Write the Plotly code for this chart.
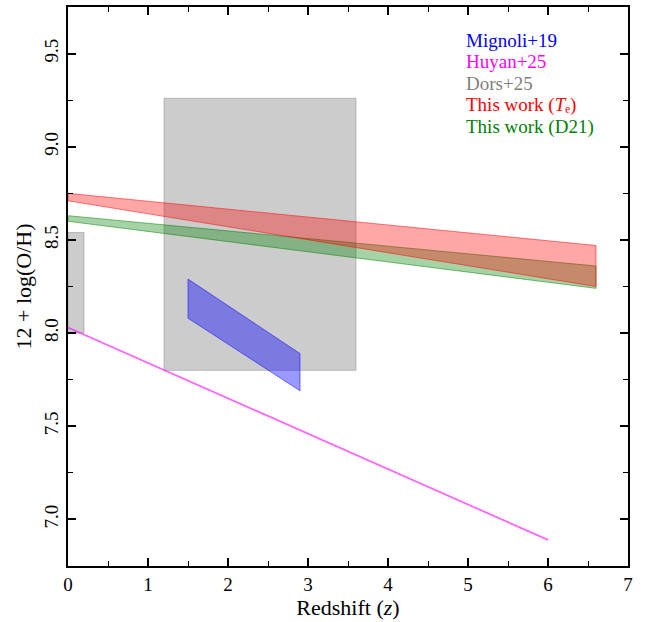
import plotly.graph_objects as go

# ---- data ----
dors_boxes = [  # (z_min, z_max, oh_min, oh_max)
    (0.0, 0.2, 8.00, 8.54),
    (1.2, 3.6, 7.80, 9.26),
]
mignoli_z = [1.5, 2.9]
mignoli_upper = [8.29, 7.89]
mignoli_lower = [8.08, 7.69]

huyan_z = [0.0, 6.0]
huyan_oh = [8.03, 6.89]

te_z = [0.0, 6.6]
te_upper = [8.75, 8.47]
te_lower = [8.71, 8.25]

d21_z = [0.0, 6.6]
d21_upper = [8.63, 8.36]
d21_lower = [8.60, 8.24]

y_ticks = [7.0, 7.5, 8.0, 8.5, 9.0, 9.5]

legend_labels = ["Mignoli+19", "Huyan+25", "Dors+25",
                 "This work (<i>T</i>\u2091)", "This work (D21)"]
legend_colors = ["#0000ff", "#ff00ff", "#808080", "#ff0000", "#008000"]

FONT = "Liberation Serif"
W, H = 656, 622

fig = go.Figure()

def band(z, up, lo, fill, line):
    xs = list(z) + list(z)[::-1] + [z[0]]
    ys = list(up) + list(lo)[::-1] + [up[0]]
    fig.add_trace(go.Scatter(x=xs, y=ys, fill="toself", fillcolor=fill,
                             mode="lines", line=dict(color=line, width=1),
                             hoverinfo="skip", showlegend=False))

for (z0, z1, y0, y1) in dors_boxes:
    band([z0, z1], [y1, y1], [y0, y0], "rgba(128,128,128,0.4)", "rgba(128,128,128,0.45)")

band(mignoli_z, mignoli_upper, mignoli_lower, "rgba(0,0,255,0.4)", "rgba(0,0,255,0.5)")

fig.add_trace(go.Scatter(x=huyan_z, y=huyan_oh, mode="lines",
                         line=dict(color="rgba(255,0,255,0.6)", width=1.8),
                         hoverinfo="skip", showlegend=False))

band(d21_z, d21_upper, d21_lower, "rgba(0,128,0,0.35)", "rgba(0,128,0,0.5)")
band(te_z, te_upper, te_lower, "rgba(255,0,0,0.35)", "rgba(255,0,0,0.5)")

for i, (t, c) in enumerate(zip(legend_labels, legend_colors)):
    px, py = 464, 37 + 24.1 * i
    fig.add_annotation(x=px / W, y=1 - py / H, xref="paper", yref="paper",
                       text=t, showarrow=False, font=dict(family=FONT, size=19, color=c),
                       xanchor="left", yanchor="middle")

tickfont = dict(family=FONT, size=19, color="black")
titlefont = dict(family=FONT, size=22, color="black")

fig.update_xaxes(range=[0, 7], dtick=1,
                 ticks="inside", ticklen=8, tickwidth=1.5, tickcolor="black",
                 showline=True, linecolor="black", linewidth=2, mirror="allticks",
                 minor=dict(dtick=0.5, ticks="inside", ticklen=5, tickcolor="black", tickwidth=1.2),
                 showgrid=False, tickfont=tickfont,
                 title=dict(text="Redshift (<i>z</i>)", font=titlefont, standoff=2))
fig.update_yaxes(range=[6.75, 9.75], tickmode="array", tickvals=y_ticks,
                 ticktext=[f"{v:.1f}" for v in y_ticks], tickangle=-90,
                 ticks="inside", ticklen=8, tickwidth=1.5, tickcolor="black",
                 showline=True, linecolor="black", linewidth=2, mirror="allticks",
                 minor=dict(dtick=0.25, tick0=7, ticks="inside", ticklen=5, tickcolor="black", tickwidth=1.2),
                 showgrid=False, tickfont=tickfont,
                 title=dict(text="12 + log(O/H)", font=titlefont, standoff=4))

fig.update_layout(width=W, height=H, margin=dict(l=68, r=28, t=5, b=56),
                  plot_bgcolor="white", paper_bgcolor="white", showlegend=False)

fig.write_html("out.html")
